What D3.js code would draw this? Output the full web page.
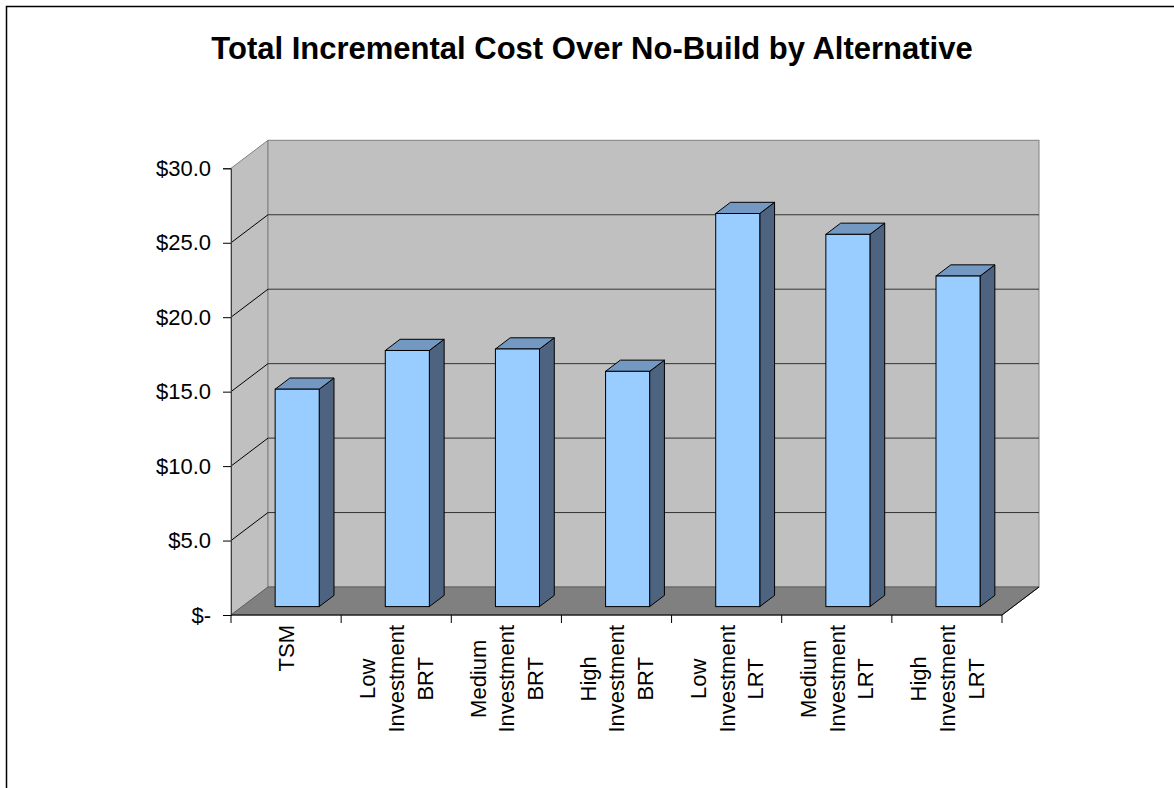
<!DOCTYPE html>
<html>
<head>
<meta charset="utf-8">
<script src="https://cdn.jsdelivr.net/npm/d3@7"></script>
<style>
  body { margin: 0; background: #fff; }
  svg { display: block; font-family: "Liberation Sans", Arial, sans-serif; }
</style>
</head>
<body>
<div id="chart"></div>
<script>
// chart data
var categories = ["TSM", "Low Investment BRT", "Medium Investment BRT", "High Investment BRT",
	"Low Investment LRT", "Medium Investment LRT", "High Investment LRT"];
var labelLines = [["TSM"], ["Low", "Investment", "BRT"], ["Medium", "Investment", "BRT"],
	["High", "Investment", "BRT"], ["Low", "Investment", "LRT"], ["Medium", "Investment", "LRT"],
	["High", "Investment", "LRT"]];
var costs = [14.6, 17.2, 17.3, 15.8, 26.4, 25.0, 22.2];
var yTicks = [0, 5, 10, 15, 20, 25, 30];
var title = "Total Incremental Cost Over No-Build by Alternative";

var width = 1174;
var height = 788;

var svg = d3.select("#chart").append("svg")
	.attr("width", width)
	.attr("height", height);

//outer frame
svg.append("rect")
	.attr("x", 6.5)
	.attr("y", 6.5)
	.attr("width", 1200)
	.attr("height", 900)
	.style("fill", "none")
	.style("stroke", "#000")
	.style("stroke-width", 1.5);

svg.append("text")
	.attr("x", 592)
	.attr("y", 59)
	.attr("text-anchor", "middle")
	.style("font-size", "31px")
	.style("font-weight", "bold")
	.text(title);

//scales - front plane of the 3d box
var x = d3.scaleBand()
	.domain(categories)
	.range([231, 1002])
	.paddingInner(0.6)
	.paddingOuter(0.3);
var y = d3.scaleLinear()
	.domain([0, 30])
	.range([615, 168.3]);

//depth offset of the back wall
var depthX = 37;
var depthY = -28;
function dp(t) { return [t * depthX, t * depthY]; }

var x0 = x.range()[0], x1 = x.range()[1];
var yTop = y(30), yBase = y(0);

// left side wall
svg.append("polygon")
	.attr("points", [[x0, yTop], [x0 + depthX, yTop + depthY], [x0 + depthX, yBase + depthY], [x0, yBase]].join(" "))
	.style("fill", "#c0c0c0")
	.style("stroke", "#808080");

// back wall
svg.append("rect")
	.attr("x", x0 + depthX)
	.attr("y", yTop + depthY)
	.attr("width", x1 - x0)
	.attr("height", yBase - yTop)
	.style("fill", "#c0c0c0")
	.style("stroke", "#808080");

// gridlines on side and back wall
var grid = svg.append("g");
yTicks.filter(function(d) { return d > 0 && d < 30; }).forEach(function(d) {
	grid.append("line")
		.attr("x1", x0).attr("y1", y(d))
		.attr("x2", x0 + depthX).attr("y2", y(d) + depthY)
		.style("stroke", "#000");
	grid.append("line")
		.attr("x1", x0 + depthX).attr("y1", y(d) + depthY)
		.attr("x2", x1 + depthX).attr("y2", y(d) + depthY)
		.style("stroke", "#333");
});

// floor
svg.append("polygon")
	.attr("points", [[x0, yBase], [x0 + depthX, yBase + depthY], [x1 + depthX, yBase + depthY], [x1, yBase]].join(" "))
	.style("fill", "#808080")
	.style("stroke", "#606060");
svg.append("line")
	.attr("x1", x1).attr("y1", yBase)
	.attr("x2", x1 + depthX).attr("y2", yBase + depthY)
	.style("stroke", "#000");

// bars
var front = dp(0.3), back = dp(0.7);
var bars = svg.append("g").selectAll("g")
	.data(categories)
	.enter().append("g");

bars.each(function(c, i) {
	var g = d3.select(this);
	var bx = x(c) + front[0];
	var bw = x.bandwidth();
	var by = y(costs[i]) + front[1];
	var bb = y(0) + front[1];
	var ox = back[0] - front[0], oy = back[1] - front[1];
	// side face
	g.append("polygon")
		.attr("points", [[bx + bw, by], [bx + bw + ox, by + oy], [bx + bw + ox, bb + oy], [bx + bw, bb]].join(" "))
		.style("fill", "#4d6380")
		.style("stroke", "#000");
	// top face
	g.append("polygon")
		.attr("points", [[bx, by], [bx + ox, by + oy], [bx + bw + ox, by + oy], [bx + bw, by]].join(" "))
		.style("fill", "#7399c2")
		.style("stroke", "#000");
	// front face
	g.append("rect")
		.attr("x", bx)
		.attr("y", by)
		.attr("width", bw)
		.attr("height", bb - by)
		.style("fill", "#99ccff")
		.style("stroke", "#000");
});

// y axis
var yAxis = d3.axisLeft(y)
	.tickValues(yTicks)
	.tickSize(8)
	.tickPadding(12)
	.tickFormat(function(d) { return d === 0 ? "$-" : "$" + d.toFixed(1); });
var yg = svg.append("g")
	.attr("transform", "translate(" + x0 + ",0)")
	.call(yAxis);
yg.select(".domain").style("stroke", "#404040");
yg.selectAll(".tick line").style("stroke", "#000");
yg.selectAll("text")
	.style("font-size", "22px")
	.style("font-family", "'Liberation Sans', Arial, sans-serif")
	.style("fill", "#000");

// x axis line and ticks at category boundaries
var step = x.step();
var xg = svg.append("g");
xg.append("line")
	.attr("x1", x0).attr("y1", yBase)
	.attr("x2", x1).attr("y2", yBase)
	.style("stroke", "#000");
d3.range(categories.length + 1).forEach(function(k) {
	var tx = x0 + k * step;
	xg.append("line")
		.attr("x1", tx).attr("y1", yBase)
		.attr("x2", tx).attr("y2", yBase + 8)
		.style("stroke", "#000");
});

// rotated category labels
var lineGap = 28.7;
var labelTop = 625;
categories.forEach(function(c, i) {
	var cx = x0 + (i + 0.5) * step;
	var lines = labelLines[i];
	var lg = svg.append("g");
	var texts = lines.map(function(t, j) {
		return lg.append("text")
			.attr("text-anchor", "middle")
			.attr("dy", "0.36em")
			.style("font-size", "22px")
			.text(t);
	});
	var len = d3.max(texts, function(t) { return t.node().getComputedTextLength(); });
	texts.forEach(function(t, j) {
		t.attr("x", 0).attr("y", (j - (lines.length - 1) / 2) * lineGap);
	});
	lg.attr("transform", "translate(" + cx + "," + (labelTop + len / 2) + ") rotate(-90)");
});
</script>
</body>
</html>
